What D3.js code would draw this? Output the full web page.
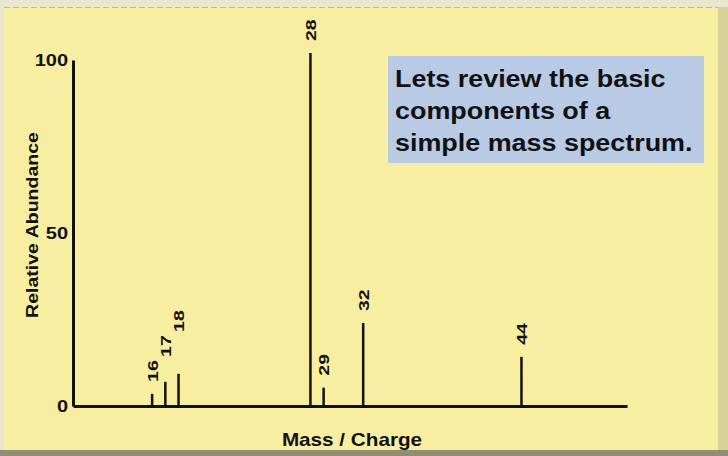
<!DOCTYPE html>
<html><head><meta charset="utf-8">
<script src="https://cdn.jsdelivr.net/npm/d3@7"></script>
<style>
html,body{margin:0;padding:0;background:#fff;}
svg{display:block;}
text{font-family:"Liberation Sans",Arial,sans-serif;font-weight:bold;fill:#111;}
</style></head>
<body>
<script>
// Data
const masses = [16, 17, 18, 28, 29, 32, 44];
const abundances = [3.5, 7, 9.3, 102, 5.3, 24, 14.2];
const yTicks = [0, 50, 100];
const noteLines = ["Lets review the basic", "components of a", "simple mass spectrum."];
const xTitle = "Mass / Charge";
const yTitle = "Relative Abundance";

const W = 728, H = 456;
const svg = d3.select("body").append("svg").attr("width", W).attr("height", H);

// Background panel
svg.append("rect").attr("width",W).attr("height",H).attr("fill","#e9e6cf");
svg.append("rect").attr("x",4).attr("y",7).attr("width",716).attr("height",443).attr("fill","#f7ef9f");
svg.append("line").attr("x1",4).attr("x2",720).attr("y1",7.5).attr("y2",7.5).attr("stroke","#b9b7a5").attr("stroke-width",1).attr("stroke-dasharray","6,3");
svg.append("rect").attr("x",0).attr("y",450).attr("width",W).attr("height",6).attr("fill","#8f8d72");
svg.append("rect").attr("x",718).attr("y",7).attr("width",10).attr("height",443).attr("fill","#d8d29a");

const x = d3.scaleLinear().domain([10, 52]).range([73, 627]);
const y = d3.scaleLinear().domain([0, 100]).range([406, 60]);

// Axes
const yAxis = svg.append("g").attr("transform", `translate(${x(10)},0)`)
  .call(d3.axisLeft(y).tickValues(yTicks).tickSize(0).tickSizeOuter(0).tickPadding(5));
yAxis.select(".domain").attr("stroke","#111").attr("stroke-width",3);
yAxis.selectAll("text").attr("font-size",16).attr("font-family","Liberation Sans, Arial, sans-serif")
  .attr("font-weight","bold").attr("fill","#222").attr("transform","scale(1.25,1)").attr("x",-4);

const xAxis = svg.append("g").attr("transform", `translate(0,${y(0)})`)
  .call(d3.axisBottom(x).tickValues([]).tickSizeOuter(0));
xAxis.select(".domain").attr("stroke","#111").attr("stroke-width",3);

// Peaks
const data = masses.map((m,i)=>({m, a: abundances[i]}));
svg.selectAll("line.peak").data(data).join("line").attr("class","peak")
  .attr("x1", d=>x(d.m)).attr("x2", d=>x(d.m))
  .attr("y1", y(0)).attr("y2", d=>y(d.a))
  .attr("stroke","#111").attr("stroke-width",2.5);

// Label placement: stagger labels of closely spaced peaks upward when they would overlap
const labelLen = 22, gap = 12;
let prev = null;
data.forEach(d => {
  let bottom = y(d.a) - gap;
  if (prev && x(d.m) - x(prev.m) < 20) {
    const overlap = bottom > prev.bottom - labelLen && bottom - labelLen < prev.bottom;
    if (overlap) bottom = prev.bottom - labelLen - 3;
  }
  d.bottom = bottom; prev = d;
});
svg.selectAll("text.plabel").data(data).join("text").attr("class","plabel")
  .attr("transform", d=>`translate(${x(d.m)},${d.bottom}) rotate(-90) scale(1.3,1)`)
  .attr("dy","0.36em").attr("text-anchor","start")
  .attr("font-size",15).text(d=>d.m);

// Axis titles
svg.append("text").attr("transform","translate(352,446) scale(1.15,1)").attr("text-anchor","middle")
  .attr("font-size",18).text(xTitle);
svg.append("text").attr("transform","translate(38,225) rotate(-90) scale(1.15,1)").attr("text-anchor","middle")
  .attr("font-size",17).text(yTitle);

// Note box
svg.append("rect").attr("x",388).attr("y",56).attr("width",316).attr("height",107).attr("fill","#b8cae4");
svg.append("g").selectAll("text").data(noteLines).join("text")
  .attr("transform",(d,i)=>`translate(395,${87 + i*32}) scale(1.17,1)`).attr("font-size",23)
  .attr("fill","#1a1a22").text(d=>d);
</script>
</body></html>
